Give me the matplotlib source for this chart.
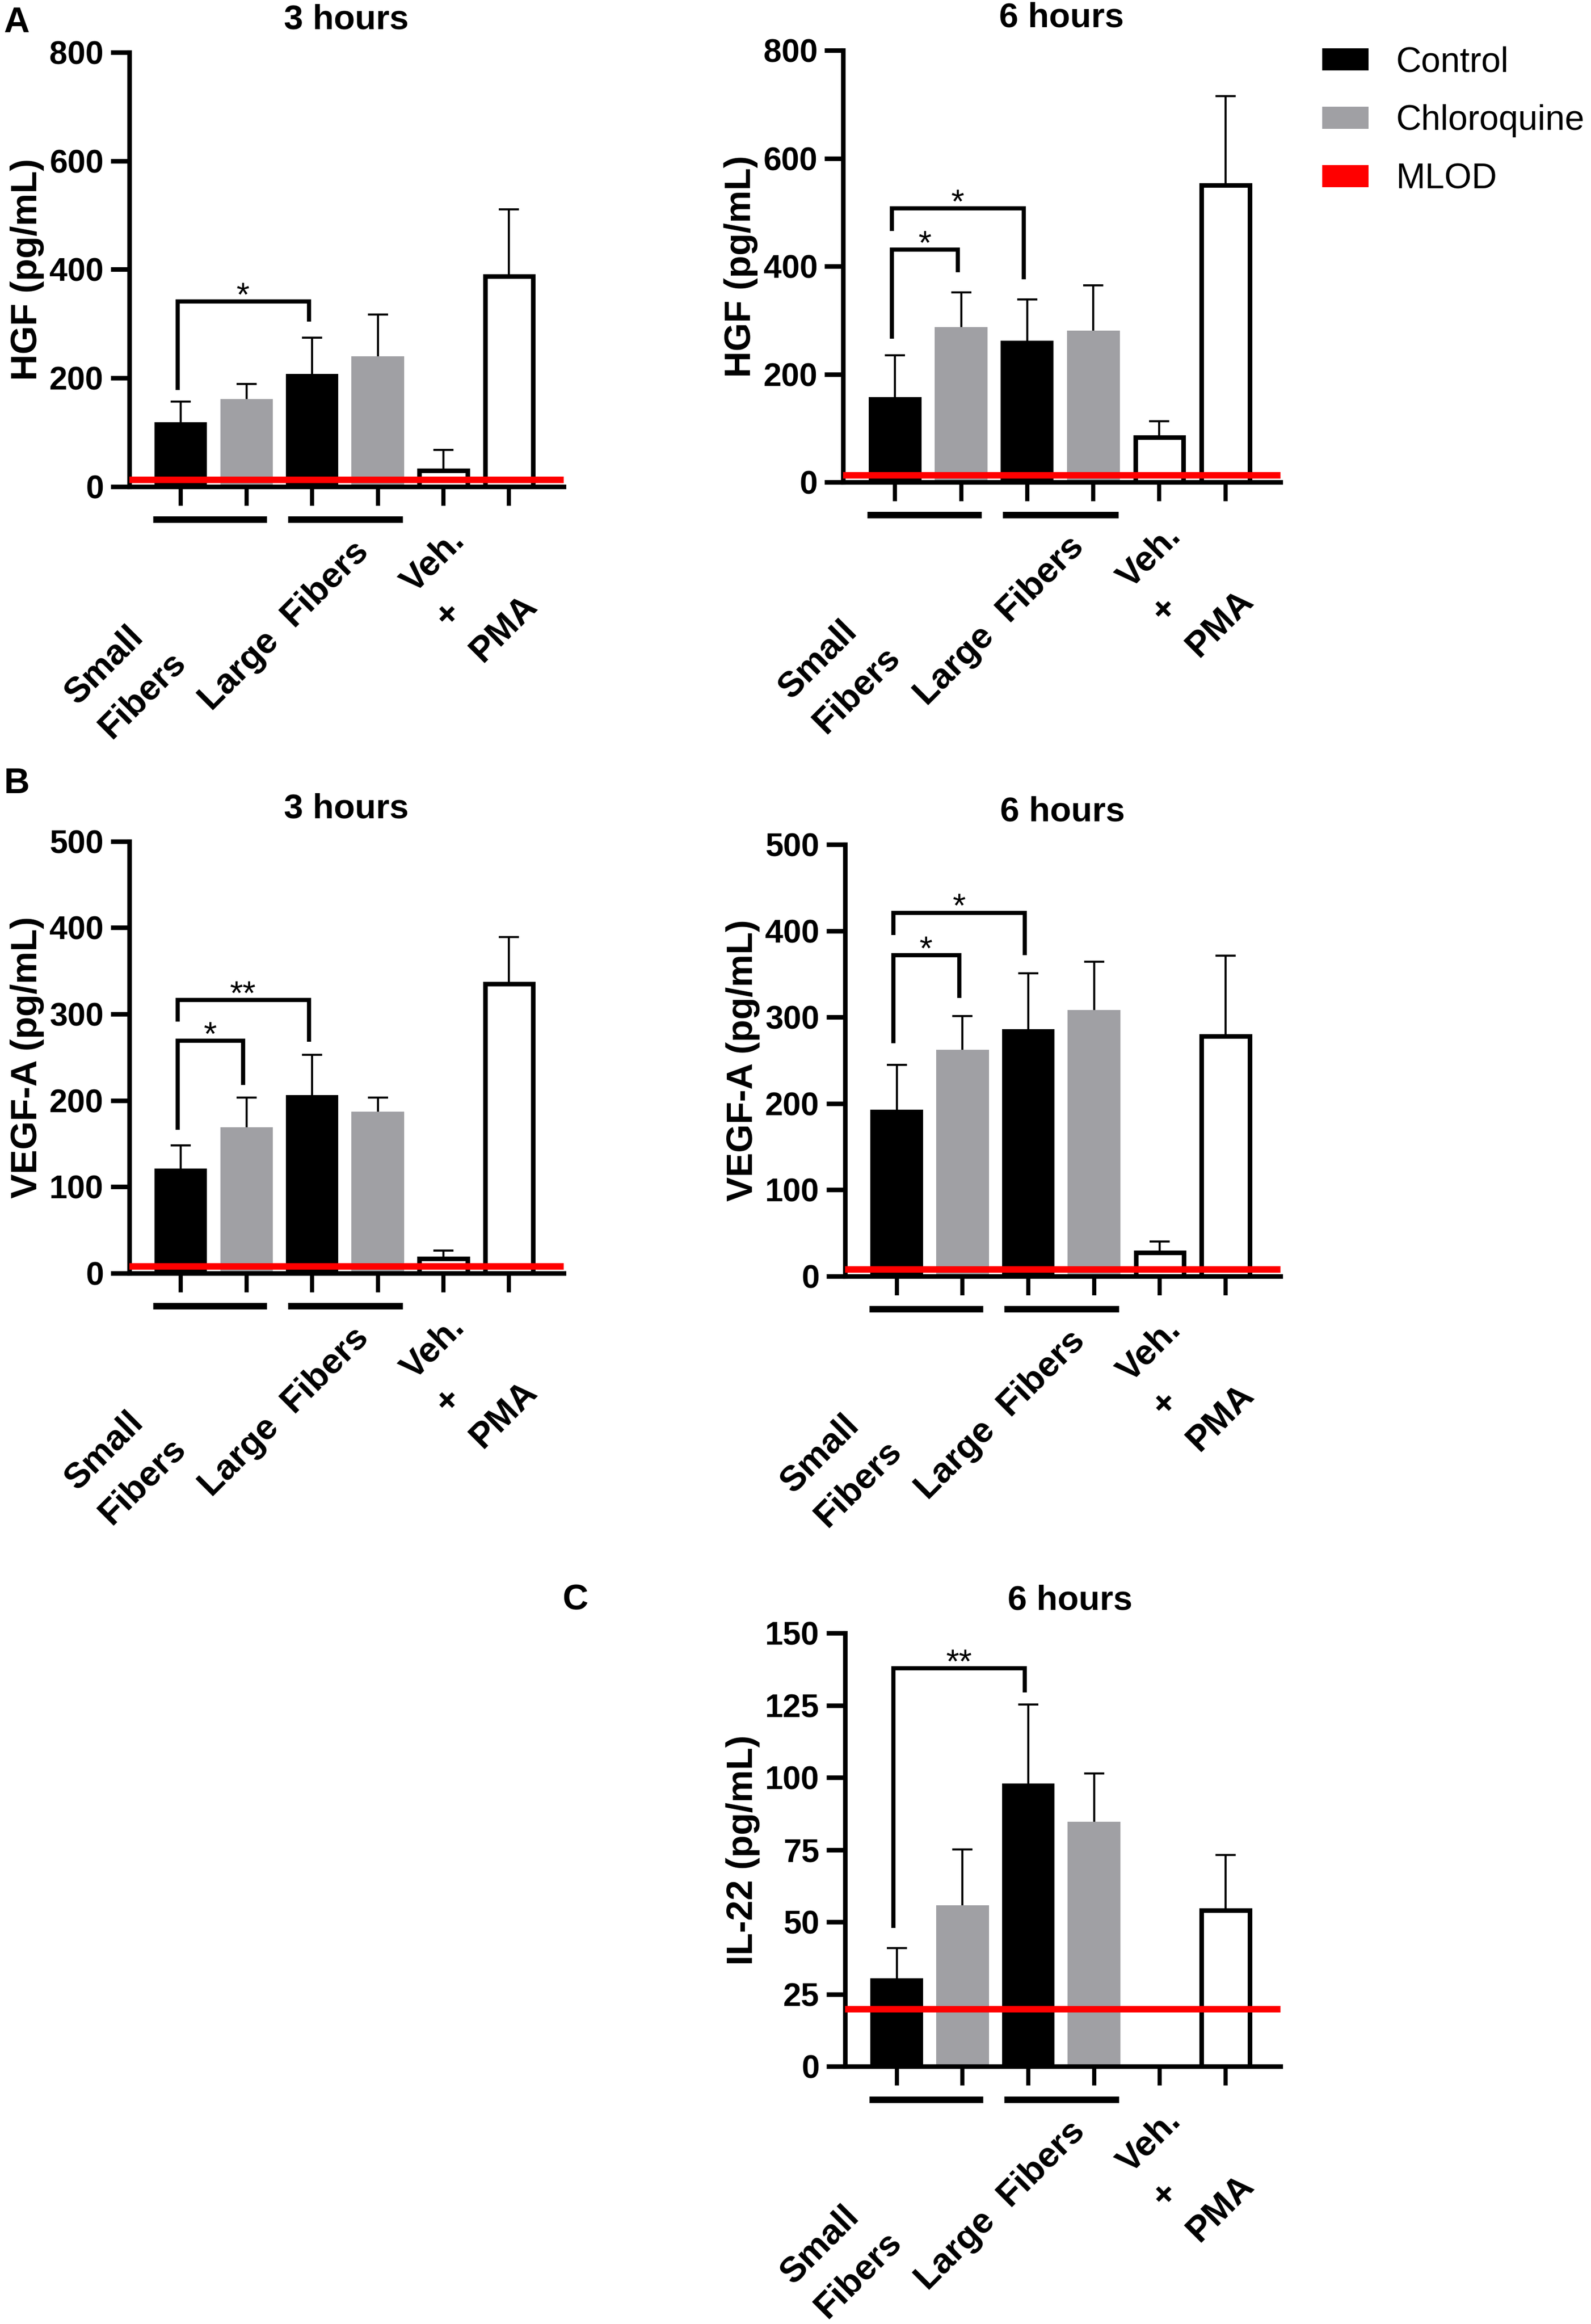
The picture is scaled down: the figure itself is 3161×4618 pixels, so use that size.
import numpy as np
import matplotlib
matplotlib.use("Agg")
import matplotlib.pyplot as plt
from matplotlib.patches import Patch

plt.rcParams['font.family'] = ['Liberation Sans', 'DejaVu Sans']

# ---------------- data ----------------
group_labels = ["Small\nFibers", "Large  Fibers", "Veh.\n+\nPMA"]
legend_labels = ["Control", "Chloroquine", "MLOD"]

# HGF, 3 hours  (Small, Large)
hgf3_control = [118, 207]
hgf3_control_err = [38, 67]
hgf3_chloroquine = [161, 240]
hgf3_chloroquine_err = [28, 77]
hgf3_vehpma = [29, 387]          # Veh., PMA
hgf3_vehpma_err = [38, 124]
hgf3_mlod = 13
hgf3_brackets = [(0, 2, 341, 178, 304, "*")]   # (bar a, bar b, top, leg a end, leg b end, label)

# HGF, 6 hours
hgf6_control = [158, 262]
hgf6_control_err = [77, 77]
hgf6_chloroquine = [287, 281]
hgf6_chloroquine_err = [65, 84]
hgf6_vehpma = [83, 550]
hgf6_vehpma_err = [30, 165]
hgf6_mlod = 13
hgf6_brackets = [(0, 1, 431, 266, 389, "*"), (0, 2, 507, 465, 376, "*")]

# VEGF-A, 3 hours
vegf3_control = [121, 206]
vegf3_control_err = [27, 47]
vegf3_chloroquine = [169, 187]
vegf3_chloroquine_err = [34, 16]
vegf3_vehpma = [17, 335]
vegf3_vehpma_err = [9, 54]
vegf3_mlod = 8
vegf3_brackets = [(0, 1, 269, 166, 218, "*"), (0, 2, 316, 291, 268, "**")]

# VEGF-A, 6 hours
vegf6_control = [193, 286]
vegf6_control_err = [52, 65]
vegf6_chloroquine = [262, 308]
vegf6_chloroquine_err = [39, 56]
vegf6_vehpma = [27, 278]
vegf6_vehpma_err = [13, 93]
vegf6_mlod = 8
vegf6_brackets = [(0, 1, 372, 270, 322, "*"), (0, 2, 421, 395, 372, "*")]

# IL-22, 6 hours
il22_control = [30.6, 98]
il22_control_err = [10.4, 27.3]
il22_chloroquine = [55.9, 84.8]
il22_chloroquine_err = [19.3, 16.7]
il22_vehpma = [np.nan, 54]
il22_vehpma_err = [np.nan, 19.2]
il22_mlod = 20
il22_brackets = [(0, 2, 137.8, 48, 129.5, "**")]

# ---------------- layout helpers ----------------
W, H = 1074.0, 1568.0   # reference layout units


def rect(x0, x1, yt, yb):
    return [x0 / W, 1 - yb / H, (x1 - x0) / W, (yb - yt) / H]


CTRL_X = np.array([0, 2])
CQ_X = np.array([1, 3])
OPEN_X = np.array([4, 5])
GRAY = '#A0A0A4'
LW = 2.2

fig = plt.figure(figsize=(3162 / 300, 4618 / 300), dpi=300)


def upper_errorbar(ax, x, y, err):
    cont = ax.errorbar(x, y, yerr=[np.zeros(len(x)), err], fmt='none',
                       ecolor='black', elinewidth=1.0, capsize=4.8,
                       capthick=1.0, zorder=1)
    for cl in cont[1]:
        if np.allclose(np.asarray(cl.get_ydata(), float), y):
            cl.set_visible(False)


def panel(r, control, control_err, cq, cq_err, vp, vp_err, mlod, ymax, ystep,
          ylabel, title, brackets, title_x=0.5):
    ax = fig.add_axes(r)
    ax.set_xlim(-0.786, 5.83)
    ax.set_ylim(0, ymax)
    control = np.asarray(control, float); control_err = np.asarray(control_err, float)
    cq = np.asarray(cq, float); cq_err = np.asarray(cq_err, float)
    vp = np.asarray(vp, float); vp_err = np.asarray(vp_err, float)

    ax.bar(CTRL_X, control, width=0.8, color='black', zorder=2)
    upper_errorbar(ax, CTRL_X, control, control_err)
    ax.bar(CQ_X, cq, width=0.8, color=GRAY, zorder=2)
    upper_errorbar(ax, CQ_X, cq, cq_err)
    m = ~np.isnan(vp)
    ax.bar(OPEN_X[m], vp[m], width=0.73, facecolor='white', edgecolor='black',
           linewidth=LW, zorder=2)
    upper_errorbar(ax, OPEN_X[m], vp[m], vp_err[m])

    ax.axhline(mlod, color='#FF0000', lw=3.1, zorder=3)

    for a, b, top, la, lb, lab in brackets:
        xa, xb = a - 0.05, b - 0.05
        ax.plot([xa, xa, xb, xb], [la, top, top, lb], color='black', lw=2.0,
                solid_joinstyle='miter', solid_capstyle='butt', zorder=4)
        ax.annotate(lab, xy=((xa + xb) / 2, top), xytext=(0, -2),
                    textcoords='offset points', ha='center', va='baseline',
                    fontsize=16, zorder=5)

    for s in ['top', 'right']:
        ax.spines[s].set_visible(False)
    for s in ['left', 'bottom']:
        ax.spines[s].set_linewidth(LW)

    ticks = np.arange(0, ymax + 0.1, ystep)
    ax.set_yticks(ticks)
    ax.set_yticklabels([f"{int(v)}" for v in ticks])
    ax.tick_params(axis='y', length=8.8, width=LW, pad=3.4, labelsize=15.5)
    for t in ax.get_yticklabels():
        t.set_fontweight('bold')
    ax.set_xticks(np.arange(6))
    ax.set_xticklabels([])
    ax.tick_params(axis='x', length=9, width=2.0)

    ax.set_ylabel(ylabel, fontsize=17.5, fontweight='bold')
    ax.yaxis.set_label_coords(-0.195, 0.5)

    ax.text(title_x, 1.054, title, transform=ax.transAxes, ha='center',
            va='baseline', fontsize=16.5, fontweight='bold')

    tr = ax.get_xaxis_transform()
    for x0, x1 in [(-0.42, 1.31), (1.63, 3.38)]:
        ax.plot([x0, x1], [-0.076, -0.076], transform=tr, clip_on=False,
                color='black', lw=3.1, solid_capstyle='butt')
    lab_pos = [(-0.84, -0.442), (1.58, -0.322), (4.40, -0.2485)]
    for (lx, ly), lab in zip(lab_pos, group_labels):
        ax.text(lx, ly, lab, transform=tr, rotation=45, rotation_mode='anchor',
                ha='center', va='center', multialignment='left',
                linespacing=1.6, fontsize=17, fontweight='bold')
    return ax


panel(rect(87.2, 380.3, 35.3, 328.2), hgf3_control, hgf3_control_err,
      hgf3_chloroquine, hgf3_chloroquine_err, hgf3_vehpma, hgf3_vehpma_err,
      hgf3_mlod, 800, 200, "HGF (pg/mL)", "3 hours", hgf3_brackets)
panel(rect(569.0, 864.0, 34.0, 325.3), hgf6_control, hgf6_control_err,
      hgf6_chloroquine, hgf6_chloroquine_err, hgf6_vehpma, hgf6_vehpma_err,
      hgf6_mlod, 800, 200, "HGF (pg/mL)", "6 hours", hgf6_brackets)
panel(rect(87.2, 380.3, 567.6, 859.0), vegf3_control, vegf3_control_err,
      vegf3_chloroquine, vegf3_chloroquine_err, vegf3_vehpma, vegf3_vehpma_err,
      vegf3_mlod, 500, 100, "VEGF-A (pg/mL)", "3 hours", vegf3_brackets)
panel(rect(570.2, 864.0, 569.8, 861.0), vegf6_control, vegf6_control_err,
      vegf6_chloroquine, vegf6_chloroquine_err, vegf6_vehpma, vegf6_vehpma_err,
      vegf6_mlod, 500, 100, "VEGF-A (pg/mL)", "6 hours", vegf6_brackets)
panel(rect(570.2, 864.0, 1101.9, 1394.3), il22_control, il22_control_err,
      il22_chloroquine, il22_chloroquine_err, il22_vehpma, il22_vehpma_err,
      il22_mlod, 150, 25, "IL-22 (pg/mL)", "6 hours", il22_brackets,
      title_x=0.517)

# panel letters
for lx, ly, L in [(2.5, 21.7, 'A'), (2.5, 535.0, 'B'), (379.4, 1086.0, 'C')]:
    fig.text(lx / W, 1 - ly / H, L, ha='left', va='baseline', fontsize=17,
             fontweight='bold')

# legend
handles = [Patch(facecolor='black', edgecolor='none'),
           Patch(facecolor=GRAY, edgecolor='none'),
           Patch(facecolor='#FF0000', edgecolor='none')]
fig.legend(handles, legend_labels, loc='upper left',
           bbox_to_anchor=(892.3 / W, 1 - 31.0 / H), frameon=False,
           fontsize=16.7, handlelength=1.32, handleheight=0.6,
           handletextpad=0.78, labelspacing=0.72, borderpad=0,
           borderaxespad=0)

fig.savefig("out.png", dpi=300)
